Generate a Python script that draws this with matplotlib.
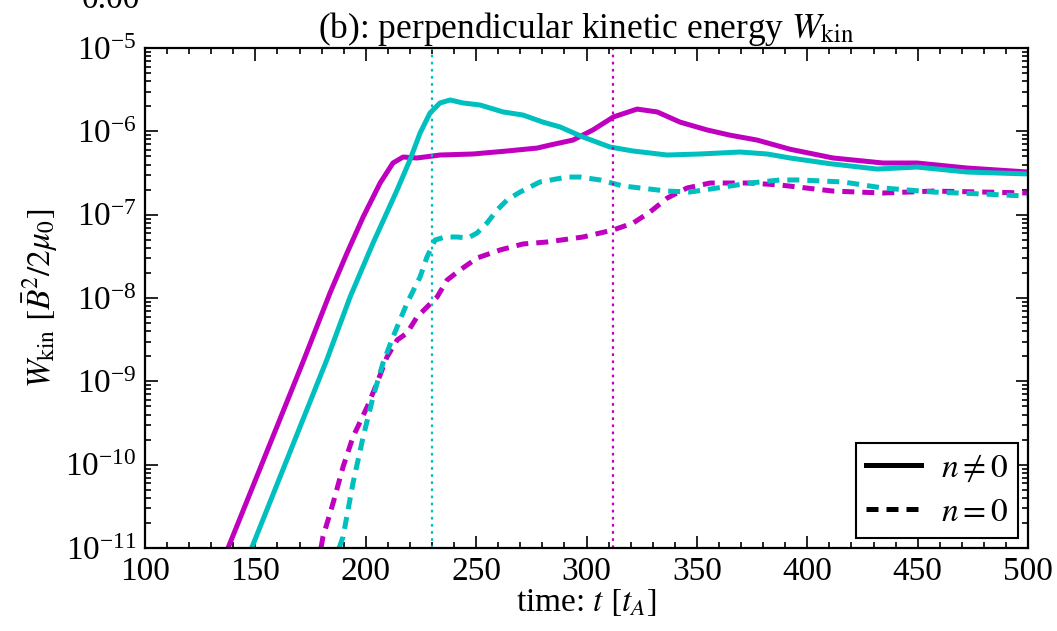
#!/usr/bin/env python

import numpy as np
import matplotlib
matplotlib.use('Agg')
import matplotlib.pyplot as plt
from matplotlib.ticker import MultipleLocator, LogLocator
from matplotlib.lines import Line2D

'''perpendicular kinetic energy W_kin vs time, n != 0 (solid) and n = 0 (dashed)'''

# magenta run
t_m_nz = [137.6, 171.9, 183.8, 191.5, 198.8, 206.5, 212.3, 216.9, 223.2, 233.6,
          248.6, 264.0, 277.6, 283.5, 293.9, 302.9, 312.2, 322.9, 332.0, 342.4,
          354.6, 365.0, 377.2, 392.2, 411.7, 434.3, 449.7, 472.4, 500.0]
w_m_nz = [1.0e-11, 1.8e-9, 1.15e-8, 3.47e-8, 9.38e-8, 2.4e-7, 4.17e-7, 4.92e-7, 4.79e-7, 5.2e-7,
          5.35e-7, 5.81e-7, 6.3e-7, 6.85e-7, 7.87e-7, 1.04e-6, 1.49e-6, 1.85e-6, 1.71e-6, 1.29e-6,
          1.04e-6, 9.0e-7, 7.87e-7, 6.1e-7, 4.79e-7, 4.17e-7, 4.17e-7, 3.63e-7, 3.25e-7]

t_m_z = [179.7, 180.6, 185.2, 189.7, 194.2, 200.6, 205.1, 209.6, 214.2, 218.7,
         223.2, 232.3, 236.8, 242.7, 250.4, 260.8, 271.2, 282.1, 298.4, 312.0,
         321.1, 328.8, 336.5, 345.5, 356.0, 374.1, 387.7, 411.7, 434.3, 457.0,
         479.6, 500.0]
w_m_z = [1.0e-11, 1.36e-11, 3.47e-11, 9.4e-11, 2.15e-10, 4.92e-10, 9.55e-10, 1.96e-9, 3.13e-9, 3.8e-9,
         5.92e-9, 1.03e-8, 1.64e-8, 2.17e-8, 3.02e-8, 3.77e-8, 4.45e-8, 4.7e-8, 5.4e-8, 6.55e-8,
         7.94e-8, 1.08e-7, 1.58e-7, 2.09e-7, 2.4e-7, 2.4e-7, 2.27e-7, 1.92e-7, 1.82e-7, 1.92e-7,
         1.87e-7, 1.82e-7]

# cyan run
t_c_nz = [148.3, 182.3, 192.9, 203.3, 214.2, 220.0, 224.6, 229.1, 233.6, 238.2,
          244.1, 251.8, 262.2, 271.2, 280.3, 288.0, 298.4, 310.6, 321.1, 336.5,
          351.4, 369.5, 381.8, 392.2, 410.0, 431.6, 449.7, 472.4, 500.0]
w_c_nz = [1.0e-11, 1.8e-9, 1.03e-8, 4.57e-8, 1.98e-7, 4.53e-7, 9.55e-7, 1.66e-6, 2.19e-6, 2.38e-6,
          2.19e-6, 2.07e-6, 1.71e-6, 1.57e-6, 1.29e-6, 1.13e-6, 8.55e-7, 6.49e-7, 5.81e-7, 5.2e-7,
          5.35e-7, 5.65e-7, 5.35e-7, 4.79e-7, 4.1e-7, 3.53e-7, 3.73e-7, 3.25e-7, 3.08e-7]

t_c_z = [187.9, 189.7, 194.2, 198.8, 203.3, 207.8, 212.3, 218.7, 224.6, 227.7,
         231.4, 235.9, 241.3, 246.3, 250.4, 254.9, 259.5, 264.0, 269.9, 278.9,
         291.2, 297.1, 306.1, 316.5, 336.5, 346.9, 356.0, 374.1, 387.7, 396.7,
         416.2, 434.3, 457.0, 479.6, 500.0]
w_c_z = [1.0e-11, 1.36e-11, 6.0e-11, 2.15e-10, 6.5e-10, 1.66e-9, 3.4e-9, 8.7e-9, 1.79e-8, 3.1e-8,
         4.97e-8, 5.4e-8, 5.4e-8, 5.25e-8, 6.03e-8, 7.94e-8, 1.14e-7, 1.5e-7, 1.87e-7, 2.47e-7,
         2.83e-7, 2.83e-7, 2.61e-7, 2.21e-7, 1.92e-7, 1.87e-7, 2.03e-7, 2.4e-7, 2.61e-7, 2.61e-7,
         2.47e-7, 2.09e-7, 1.87e-7, 1.77e-7, 1.67e-7]

# vertical markers
t_mark_c = 230.0
t_mark_m = 312.0

x_ticks = [100, 150, 200, 250, 300, 350, 400, 450, 500]


def main():
    plt.rcParams['font.family'] = ['Liberation Serif', 'DejaVu Serif']
    plt.rcParams['mathtext.fontset'] = 'stix'
    plt.rcParams['font.size'] = 24

    fig = plt.figure(figsize=(10.57, 6.31), dpi=100)
    ax = fig.add_axes([0.1372, 0.1315, 0.8354, 0.7924])

    cyan = (0.0, 0.75, 0.75)
    mag = (0.75, 0.0, 0.75)
    dash = (0, (2.4, 1.6))

    ax.plot(t_m_nz, w_m_nz, color=mag, lw=3.6)
    ax.plot(t_c_nz, w_c_nz, color=cyan, lw=3.6)
    ax.plot(t_m_z, w_m_z, color=mag, lw=3.6, ls=dash)
    ax.plot(t_c_z, w_c_z, color=cyan, lw=3.6, ls=dash)
    ax.axvline(t_mark_c, color=cyan, lw=1.6, ls=(0, (1.2, 2.0)))
    ax.axvline(t_mark_m, color=mag, lw=1.6, ls=(0, (1.2, 2.0)))

    ax.set_yscale('log')
    ax.set_xlim(100, 500)
    ax.set_ylim(1e-11, 1e-5)
    ax.set_xticks(x_ticks)
    ax.xaxis.set_minor_locator(MultipleLocator(10))
    ax.yaxis.set_major_locator(LogLocator(base=10, numticks=20))
    ax.yaxis.set_minor_locator(LogLocator(base=10, subs=np.arange(2, 10), numticks=20))
    ax.tick_params(which='both', direction='in', top=True, right=True, width=1.2)
    ax.tick_params(which='major', length=9, labelsize=24, pad=6)
    ax.tick_params(which='minor', length=4.5)
    for s in ax.spines.values():
        s.set_linewidth(1.6)

    ax.set_xlabel(r'time: $t\ [t_A]$', fontsize=24, labelpad=0)
    ax.set_ylabel(r'$W_{\rm kin}\ [\bar{B}^2/2\mu_0]$', fontsize=24, labelpad=4)
    ax.set_title(r'(b): perpendicular kinetic energy $W_{\rm kin}$', fontsize=25.5, pad=5)

    handles = [Line2D([], [], color='k', lw=3.6),
               Line2D([], [], color='k', lw=3.6, ls=dash)]
    leg = ax.legend(handles, [r'$n \neq 0$', r'$n = 0$'], loc='lower right',
                    fancybox=False, edgecolor='k', framealpha=1, fontsize=24,
                    handlelength=1.65, handletextpad=0.6, borderpad=0.3,
                    labelspacing=0.4, borderaxespad=0.3)
    leg.get_frame().set_linewidth(1.5)

    # tick label from the panel above, cut off at the top edge
    fig.text(0.105, 1.0, '0.00', fontsize=24, ha='center', va='center')

    fig.savefig('out.png', dpi=100)
    return


if __name__ == '__main__':
    main()
